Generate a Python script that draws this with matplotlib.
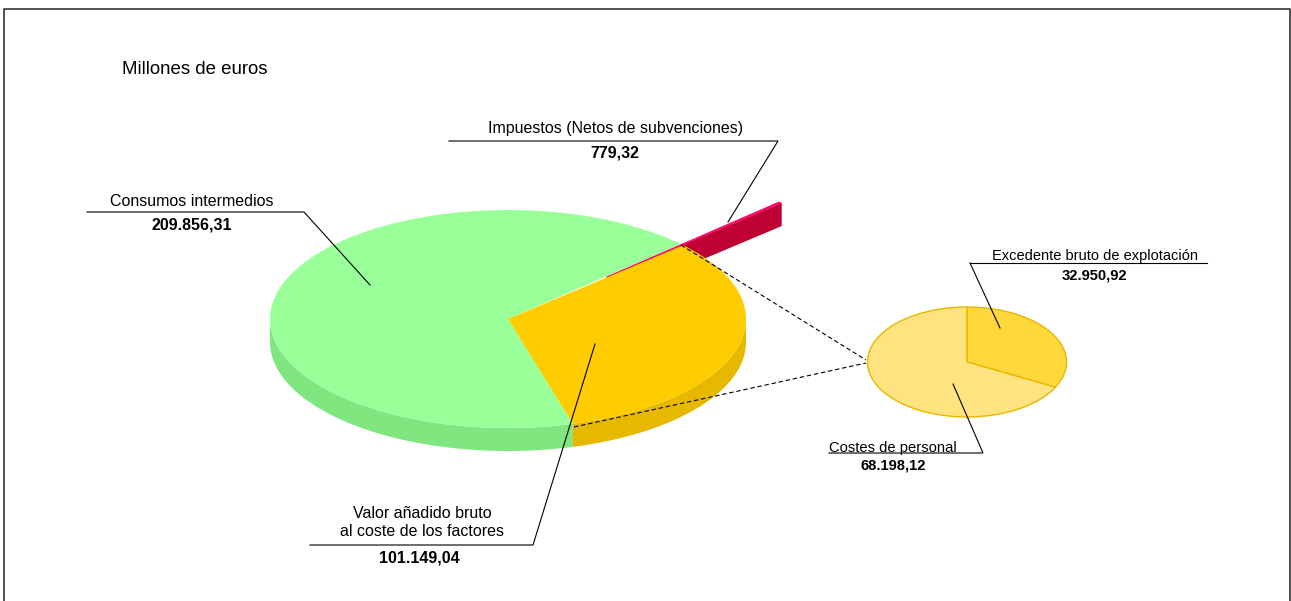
import numpy as np
import matplotlib
matplotlib.use("Agg")
import matplotlib.pyplot as plt
from matplotlib.patches import Wedge, Polygon
from matplotlib.transforms import Affine2D

main_values = [101149.04, 779.32, 209856.31]  # valor anadido, impuestos, consumos
detail_values = [32950.92, 68198.12]  # excedente, costes de personal

plt.rcParams['font.family'] = ['Liberation Sans', 'DejaVu Sans']

W, H = 1291, 601
fig = plt.figure(figsize=(W / 100, H / 100), dpi=100)
ax = fig.add_axes([0, 0, 1, 1])
ax.set_xlim(0, W)
ax.set_ylim(H, 0)
ax.axis('off')


def ell_xy(cx, cy, rx, ry, a):
    a = np.radians(a)
    return cx + rx * np.cos(a), cy - ry * np.sin(a)


def top(cx, cy, rx, ry, a1, a2, color, z, **kw):
    tr = Affine2D().scale(rx, -ry).translate(cx, cy) + ax.transData
    w = Wedge((0, 0), 1, a1, a2, transform=tr, facecolor=color, zorder=z, **kw)
    ax.add_patch(w)


def rim(cx, cy, rx, ry, a1, a2, depth, color, z):
    t = np.linspace(a1, a2, 80)
    x, y = ell_xy(cx, cy, rx, ry, t)
    pts = np.r_[np.c_[x, y], np.c_[x[::-1], y[::-1] + depth]]
    ax.add_patch(Polygon(pts, closed=True, facecolor=color, edgecolor='none', zorder=z))


cx, cy, rx, ry, depth = 508, 319, 238, 109, 23
total = sum(main_values)
spans = [v / total * 360 for v in main_values]
a_start = 42.6
orange = (a_start - spans[0], a_start)
red = (a_start, a_start + spans[1])
green = (red[1], red[1] + spans[2])

# impuestos slice pulled out along its bisector
mid = np.radians(sum(red) / 2)
off = 0.565
rcx = cx + off * rx * np.cos(mid)
rcy = cy - off * ry * np.sin(mid)

# red side wall + outer rim, orange/green sit on top of it
p0 = (rcx, rcy)
p1 = ell_xy(rcx, rcy, rx, ry, red[0])
ax.add_patch(Polygon([p0, p1, (p1[0], p1[1] + depth), (p0[0], p0[1] + depth)],
                     facecolor='#BF0033', edgecolor='none', zorder=1))
rim(rcx, rcy, rx, ry, red[0], red[1], depth, '#BF0033', 1)

rim(cx, cy, rx, ry, 180, green[1], depth, '#80E680', 2)
rim(cx, cy, rx, ry, orange[0], 0, depth, '#E6B800', 2)
top(cx, cy, rx, ry, green[0], green[1], '#99FF99', 3, edgecolor='none')
top(rcx, rcy, rx, ry, red[0], red[1], '#FF0066', 4, edgecolor='#FF0066', linewidth=0.4)
top(cx, cy, rx, ry, orange[0], orange[1], '#FFCC00', 5, edgecolor='none')

# detail pie
dx, dy, drx, dry = 967, 362, 99.5, 55
dtotal = sum(detail_values)
a_split = 90 - detail_values[0] / dtotal * 360
top(dx, dy, drx, dry, a_split, 90, '#FFD83B', 6, edgecolor='#E6B800', linewidth=1)
top(dx, dy, drx, dry, 90, a_split + 360, '#FFE380', 6, edgecolor='#E6B800', linewidth=1)

# frame, open at the bottom
ax.plot([4, 4, 1290, 1290], [H, 9, 9, H], color='#333333', lw=1.2, zorder=7, clip_on=False)

# connectors to the detail pie
for xs, ys in [([681, 866], [245, 360]), ([574, 866], [427, 363])]:
    ax.plot(xs, ys, color='black', lw=0.8, ls=(0, (4, 2.5)), zorder=8)

# leader lines
leaders = [
    ([449, 778, 728], [141, 141, 222]),
    ([87, 304, 370], [212, 212, 285]),
    ([310, 533, 595], [545, 545, 344]),
    ([970, 1207], [263, 263]),
    ([970, 1000], [263, 328]),
    ([829, 983, 953], [453, 453, 384]),
]
for xs, ys in leaders:
    ax.plot(xs, ys, color='black', lw=0.8, zorder=9, solid_joinstyle='miter')

ax.text(122, 70, 'Millones de euros', fontsize=13.4, va='center', ha='left', zorder=10)


def lab(x, y, s, size=11.5, weight='normal'):
    ax.text(x, y, s, fontsize=size, fontweight=weight, ha='center', va='center', zorder=10)


lab(615.5, 128, 'Impuestos (Netos de subvenciones)')
lab(615, 153, '779,32', weight='bold')
lab(192, 202, 'Consumos intermedios')
lab(192, 225, '209.856,31', weight='bold')
lab(422, 513, 'Valor añadido bruto')
lab(422.5, 531, 'al coste de los factores')
lab(419, 558, '101.149,04', weight='bold')
lab(1094.5, 256, 'Excedente bruto de explotación', size=10.5)
lab(1094.5, 275, '32.950,92', size=10.6, weight='bold')
lab(893, 448, 'Costes de personal', size=10.6)
lab(893, 465, '68.198,12', size=10.6, weight='bold')

fig.savefig('out.png', dpi=100)
